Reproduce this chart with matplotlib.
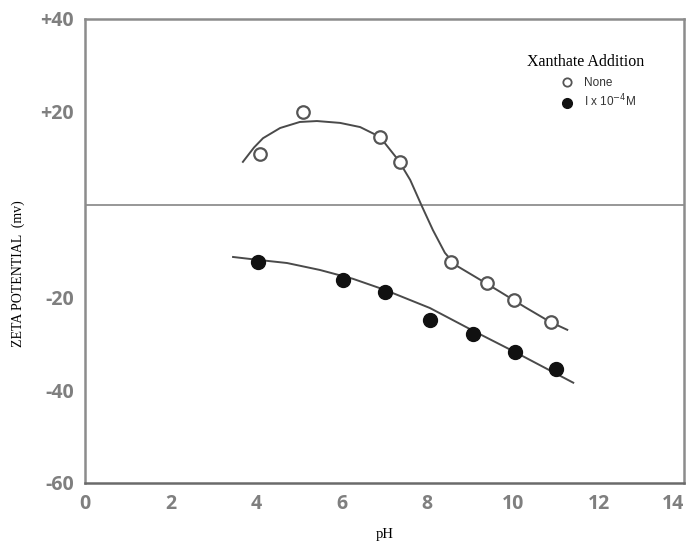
import matplotlib
matplotlib.use('Agg')
import matplotlib.pyplot as plt
import matplotlib.transforms as mtransforms

# measured points, pH vs zeta potential (mV)
ph_none = [4.09, 5.09, 6.89, 7.36, 8.55, 9.39, 10.03, 10.89]
zeta_none = [10.9, 20.0, 14.6, 9.2, -12.4, -16.9, -20.6, -25.3]
ph_xan = [4.04, 6.03, 7.01, 8.06, 9.07, 10.05, 11.01]
zeta_xan = [-12.4, -16.3, -18.9, -24.9, -27.9, -31.8, -35.5]

# hand drawn curves
curve_none_x = [3.69, 3.95, 4.16, 4.56, 5.02, 5.42, 5.96, 6.43, 6.89, 7.32, 7.60, 7.88,
                8.13, 8.41, 8.65, 9.16, 9.70, 10.28, 10.87, 11.27]
curve_none_y = [9.2, 12.3, 14.3, 16.5, 17.8, 18.0, 17.6, 16.7, 14.6, 9.6, 5.3, -0.5,
                -5.5, -10.4, -13.0, -15.8, -18.8, -22.1, -25.3, -27.0]
curve_xan_x = [3.46, 4.02, 4.72, 5.49, 6.26, 7.01, 8.06, 9.07, 10.05, 10.75, 11.41]
curve_xan_y = [-11.3, -11.9, -12.6, -14.1, -16.0, -18.4, -22.3, -27.2, -31.8, -35.2, -38.4]

xticks = [0, 2, 4, 6, 8, 10, 12, 14]
yticks = [40, 20, -20, -40, -60]
ytick_labels = ['+40', '+20', '-20', '-40', '-60']

fig = plt.figure(figsize=(6.91, 5.42), dpi=100)
ax = fig.add_axes([0.123, 0.109, 0.867, 0.856])
ax.set_xlim(0, 14)
ax.set_ylim(-60, 40)

ax.axhline(0, color='#8f8f8f', lw=1.3, zorder=1)

ax.plot(curve_none_x, curve_none_y, color='#4a4a4a', lw=1.4, zorder=2)
ax.plot(curve_xan_x, curve_xan_y, color='#4a4a4a', lw=1.4, zorder=2)
ax.plot(ph_none, zeta_none, 'o', ms=9, mfc='white', mec='#555555', mew=1.6, zorder=3)
ax.plot(ph_xan, zeta_xan, 'o', ms=10, color='#111111', zorder=3)

ax.set_xticks(xticks)
ax.set_yticks(yticks)
ax.set_yticklabels(ytick_labels)
ax.tick_params(length=0, colors='#7f7f7f', labelsize=14, pad=8)
for lab in ax.get_xticklabels() + ax.get_yticklabels():
    lab.set_fontweight('bold')
    lab.set_family('Open Sans')
# last x label sits a bit inside the edge, as in the scan
last = ax.get_xticklabels()[-1]
last.set_transform(last.get_transform() + mtransforms.ScaledTranslation(-8 / 72, 0, fig.dpi_scale_trans))

for s in ax.spines.values():
    s.set_color('#8c8c8c')
    s.set_linewidth(1.8)
ax.spines['bottom'].set_color('#6a6a6a')

ax.set_xlabel('pH', family='Liberation Serif', fontsize=10.5, labelpad=10)
fig.text(0.026, 0.495, 'ZETA POTENTIAL  (mv)', rotation=90, family='Liberation Serif',
         fontsize=10, ha='center', va='center')

# legend
ax.text(0.835, 0.908, 'Xanthate Addition', transform=ax.transAxes, family='Liberation Serif',
        fontsize=11.5, ha='center', va='center')
h1, = ax.plot([], [], 'o', ms=6, mfc='white', mec='#555555', mew=1.3)
h2, = ax.plot([], [], 'o', ms=7, color='#111111')
ax.legend([h1, h2], ['None', r'I x 10$^{-4}$M'], loc='upper left',
          bbox_to_anchor=(0.775, 0.898), frameon=False,
          handletextpad=0.8, labelspacing=0.35, handlelength=1.2,
          prop={'family': 'Liberation Sans', 'size': 8.5}, labelcolor='#333333')

fig.savefig('out.png', dpi=100)
